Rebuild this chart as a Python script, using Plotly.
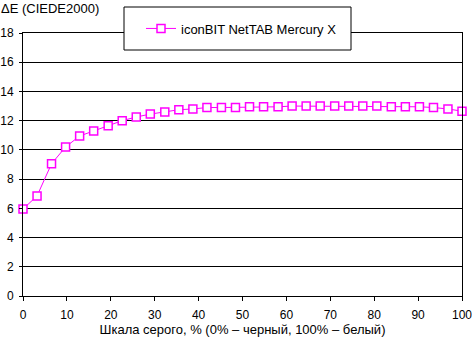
import plotly.graph_objects as go

# Grey level, % (0% = black, 100% = white)
grey_level = [0, 3.2, 6.5, 9.7, 12.9, 16.1, 19.4, 22.6, 25.8, 29.0, 32.3, 35.5,
              38.7, 41.9, 45.2, 48.4, 51.6, 54.8, 58.1, 61.3, 64.5, 67.7, 71.0,
              74.2, 77.4, 80.6, 83.9, 87.1, 90.3, 93.5, 96.8, 100]

# Colour error, dE (CIEDE2000)
delta_e = [5.95, 6.85, 9.05, 10.2, 10.95, 11.3, 11.65, 12.0, 12.25, 12.45, 12.6,
           12.75, 12.8, 12.9, 12.9, 12.9, 12.95, 12.95, 12.95, 13.0, 13.0, 13.0,
           13.0, 13.0, 13.0, 13.0, 12.95, 12.95, 12.95, 12.9, 12.8, 12.65]

series_name = "iconBIT NetTAB Mercury X"
x_title = "Шкала серого, % (0% – черный, 100% – белый)"
y_title = "ΔE (CIEDE2000)"
x_ticks = [0, 10, 20, 30, 40, 50, 60, 70, 80, 90, 100]
y_ticks = [0, 2, 4, 6, 8, 10, 12, 14, 16, 18]

W, H = 472, 338
ML, MR, MT, MB = 23, 10, 33, 42
PW, PH = W - ML - MR, H - MT - MB

FONT = dict(family="Liberation Sans, Arial, sans-serif", size=13, color="black")
TICK_FONT = dict(family="Liberation Sans, Arial, sans-serif", size=12, color="black")
MAGENTA = "#FF00FF"


def px_x(px):
    return (px - ML) / PW


def px_y(py):
    return (H - MB - py) / PH


fig = go.Figure()
fig.add_trace(go.Scatter(
    x=grey_level, y=delta_e, mode="lines+markers", name=series_name,
    line=dict(color=MAGENTA, width=1),
    marker=dict(symbol="square", size=8, color="white",
                line=dict(color=MAGENTA, width=1.5)),
    cliponaxis=False,
))

fig.update_layout(
    width=W, height=H,
    margin=dict(l=ML, r=MR, t=MT, b=MB, pad=0, autoexpand=False),
    paper_bgcolor="white", plot_bgcolor="white",
    font=FONT,
    showlegend=True,
    legend=dict(x=px_x(141), y=px_y(28.5), xanchor="left", yanchor="middle",
                bgcolor="rgba(0,0,0,0)", borderwidth=0, font=FONT),
    xaxis=dict(range=[0, 100], tickvals=x_ticks, showgrid=False,
               showline=True, linecolor="black", linewidth=1, mirror=True,
               ticks="outside", ticklen=4, tickcolor="black",
               tickfont=TICK_FONT, ticklabelstandoff=4,
               ticklabeloverflow="allow",
               zeroline=False, fixedrange=True, automargin=False,
               title=dict(text=x_title, standoff=2, font=FONT)),
    yaxis=dict(range=[0, 18], tickvals=y_ticks, showgrid=True,
               gridcolor="black", gridwidth=1,
               showline=True, linecolor="black", linewidth=1, mirror=True,
               ticks="outside", ticklen=3, tickcolor="black",
               tickfont=TICK_FONT, ticklabelstandoff=3,
               ticklabeloverflow="allow",
               zeroline=False, fixedrange=True, automargin=False),
    shapes=[dict(type="rect", xref="paper", yref="paper",
                 x0=px_x(124), x1=px_x(351), y0=px_y(50), y1=px_y(7),
                 fillcolor="white", line=dict(color="black", width=1),
                 layer="above")],
    annotations=[dict(text=y_title, xref="paper", yref="paper",
                      x=px_x(0), y=px_y(0), xanchor="left", yanchor="top",
                      borderpad=0, showarrow=False, font=FONT)],
)

fig.write_html("out.html", config={"displayModeBar": False})
